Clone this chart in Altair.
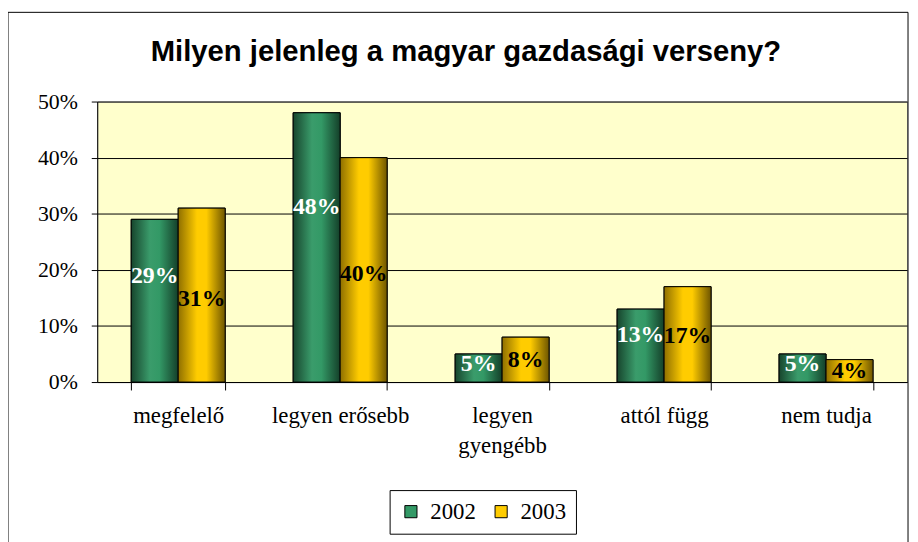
import altair as alt
import pandas as pd

title_text = "Milyen jelenleg a magyar gazdasági verseny?"
categories = ["megfelelő", "legyen erősebb", "legyen\ngyengébb", "attól függ", "nem tudja"]
years = ["2002", "2003"]
values_2002 = [29, 48, 5, 13, 5]
values_2003 = [31, 40, 8, 17, 4]
y_ticks = [0, 10, 20, 30, 40, 50]

rows = []
for c, a, b in zip(categories, values_2002, values_2003):
    rows.append({"cat": c, "year": "2002", "value": a})
    rows.append({"cat": c, "year": "2003", "value": b})
df = pd.DataFrame(rows)

green = "#339966"
gold = "#FFCC00"

xenc = alt.X("cat:N", sort=categories, title=None,
             scale=alt.Scale(paddingInner=0.42, paddingOuter=0.21),
             axis=alt.Axis(labelAngle=0, labelFont="Liberation Serif", labelFontSize=23,
                           labelColor="black", labelExpr="split(datum.label, '\\n')",
                           labelLineHeight=30, labelPadding=15, tickSize=8, tickBand="extent",
                           tickColor="black", domainColor="black", labelBaseline="top"))
yenc = alt.Y("value:Q", title=None,
             scale=alt.Scale(domain=[0, 50], nice=False),
             axis=alt.Axis(values=y_ticks, labelExpr="datum.value + '%'",
                           labelFont="Liberation Serif", labelFontSize=22, labelColor="black",
                           labelPadding=14, tickSize=6, tickColor="black", domainColor="black",
                           gridColor="black", gridWidth=1))
xoff = alt.XOffset("year:N", scale=alt.Scale(domain=years))

base = alt.Chart(df)

legend_layer = base.mark_bar(stroke="black", strokeWidth=1).encode(
    x=xenc, xOffset=xoff, y=yenc,
    color=alt.Color("year:N", scale=alt.Scale(domain=years, range=[green, gold]),
                    legend=alt.Legend(title=None, orient="none", legendX=295, legendY=392,
                                      direction="horizontal", symbolType="square",
                                      symbolSize=150, symbolStrokeColor="black",
                                      symbolStrokeWidth=1, labelFont="Liberation Serif",
                                      labelFontSize=23, labelColor="black",
                                      strokeColor="black", padding=10, columnPadding=14,
                                      labelOffset=8, fillColor="white")),
)

grad_green = alt.Gradient(gradient="linear", x1=0, x2=1, y1=0, y2=0, stops=[
    alt.GradientStop(color="#17452D", offset=0),
    alt.GradientStop(color="#3A9C6B", offset=0.4),
    alt.GradientStop(color="#339966", offset=0.6),
    alt.GradientStop(color="#143F29", offset=1)])
grad_gold = alt.Gradient(gradient="linear", x1=0, x2=1, y1=0, y2=0, stops=[
    alt.GradientStop(color="#8F6F00", offset=0),
    alt.GradientStop(color="#FFCC00", offset=0.4),
    alt.GradientStop(color="#FFCC00", offset=0.6),
    alt.GradientStop(color="#6E5500", offset=1)])

bars_2002 = base.transform_filter("datum.year == '2002'").mark_bar(
    fill=grad_green, stroke="black", strokeWidth=1).encode(x=xenc, xOffset=xoff, y=yenc)
bars_2003 = base.transform_filter("datum.year == '2003'").mark_bar(
    fill=grad_gold, stroke="black", strokeWidth=1).encode(x=xenc, xOffset=xoff, y=yenc)

labels = base.transform_calculate(
    pos="datum.value * (datum.year == '2002' ? 0.65 : 0.48)",
    txt="datum.value + '%'"
).mark_text(font="Liberation Serif", fontSize=24, fontWeight="bold", baseline="middle").encode(
    x=xenc, xOffset=xoff, y=alt.Y("pos:Q"),
    text="txt:N",
    color=alt.Color("year:N", scale=alt.Scale(domain=years, range=["white", "black"]), legend=None),
)

one = pd.DataFrame({"t": [title_text]})
frame = alt.Chart(one).mark_rect(fill="transparent", stroke="black", strokeWidth=1, clip=False).encode(
    x=alt.value(-90), x2=alt.value(818), y=alt.value(-90), y2=alt.value(460))
title = alt.Chart(one).mark_text(font="Liberation Sans", fontSize=29.5, fontWeight="bold",
                                 color="black", align="center", baseline="alphabetic").encode(
    x=alt.value(372), y=alt.value(-41), text="t:N")

chart = alt.layer(frame, title, legend_layer, bars_2002, bars_2003, labels).resolve_scale(color="independent").properties(
    width=817, height=283,
    autosize=alt.AutoSizeParams(type="none"),
    padding={"left": 90, "top": 92, "right": 3, "bottom": 159},
).configure(background="white").configure_view(fill="#FFFFCC", stroke="#999999")

chart.save("out.html", embed_options={"renderer": "svg", "actions": False})
